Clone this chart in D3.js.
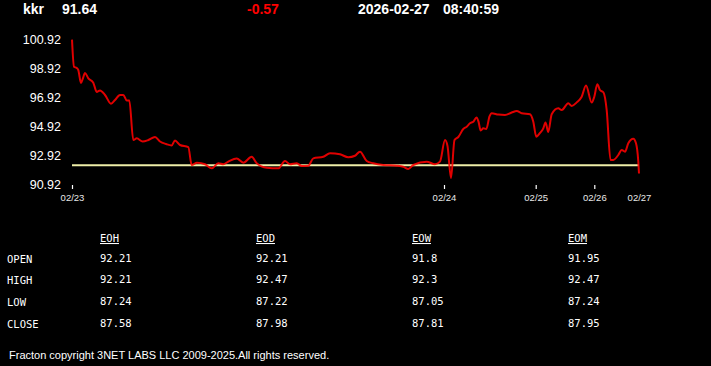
<!DOCTYPE html>
<html>
<head>
<meta charset="utf-8">
<script src="https://cdn.jsdelivr.net/npm/d3@7"></script>
<style>
  html, body { margin: 0; padding: 0; background: #000; overflow: hidden; }
  svg { display: block; }
</style>
</head>
<body>
<script>
// ---- data ----
const symbol = "kkr";
const lastPrice = "91.64";
const change = "-0.57";
const dateStr = "2026-02-27";
const timeStr = "08:40:59";
const prevClose = 92.21;

// sample position (intraday bar index) and price
const times = [0,2,4.7,6.3,9,11,13,16.3,21.3,24.7,28,33,39,43,48,51.3,54.7,57.3,61.3,64.7,
  70.7,76.3,83,88,94,99.7,103,108,116.3,119.7,125,133,139.7,146.3,151.3,156.3,164.7,171.3,179.7,184.7,
  194.7,206.3,213,218,224.7,229.7,236.3,241.3,251.3,258,268,276.3,283,288,294.7,301.3,311.3,324.7,331.3,336.3,
  341.3,354.7,363,368,373,375.5,379,382.5,386.3,391.3,394.7,398,401.3,404.5,406.5,408.7,411.3,414.3,417.5,419.7,
  426.3,433,439.7,444.7,449.7,458,461.3,464.3,468,471.3,473.5,476.3,479.7,486.3,489.7,496.3,499.7,504.7,509.7,514,
  519.7,522.3,525.3,528,531.5,534.7,538.5,541.3,546.3,549.7,553,556.3,561.3,564,566.3,567];
const prices = [100.88,99.01,98.92,98.78,97.89,98.23,98.58,98.21,97.91,97.27,97.37,97.06,96.46,96.71,97.06,97.06,96.68,96.68,93.95,94.07,
  93.85,93.95,94.16,93.85,93.68,93.58,93.92,93.61,93.47,92.23,92.38,92.28,92.00,92.35,92.28,92.46,92.68,92.39,92.80,92.35,
  92.04,92.00,92.51,92.28,92.35,92.16,92.18,92.69,92.80,93.04,92.97,92.76,92.87,93.15,92.51,92.35,92.23,92.18,92.11,91.95,
  92.23,92.46,92.28,92.46,93.95,93.54,91.33,93.95,94.16,94.71,94.87,95.11,95.22,95.51,95.22,94.61,94.76,94.71,95.58,95.80,
  95.71,95.68,95.85,95.95,95.80,95.73,95.22,94.18,94.44,94.76,95.16,94.51,95.73,96.14,96.02,96.49,96.30,96.55,96.94,97.71,
  96.54,96.94,97.80,97.40,97.23,96.02,92.58,92.58,92.92,93.27,93.15,93.73,94.04,93.73,92.46,91.64];

const yTicks = [100.92, 98.92, 96.92, 94.92, 92.92, 90.92];
const xTickPos = [0, 372, 463.7, 522.3, 567];
const xTickLabels = ["02/23", "02/24", "02/25", "02/26", "02/27"];

const tableCols = ["EOH", "EOD", "EOW", "EOM"];
const tableRows = ["OPEN", "HIGH", "LOW", "CLOSE"];
const eoh = ["92.21", "92.21", "87.24", "87.58"];
const eod = ["92.21", "92.47", "87.22", "87.98"];
const eow = ["91.8", "92.3", "87.05", "87.81"];
const eom = ["91.95", "92.47", "87.24", "87.95"];
const footer = "Fracton copyright 3NET LABS LLC 2009-2025.All rights reserved.";

// ---- drawing ----
const W = 711, H = 366;
const svg = d3.select("body").append("svg").attr("width", W).attr("height", H)
  .style("background", "#000");

const sans = "'Liberation Sans', Arial, sans-serif";
const mono = "'DejaVu Sans Mono', monospace";

// header
const hdr = svg.append("g").attr("font-family", sans).attr("font-weight", "bold")
  .attr("font-size", 14).attr("fill", "#fff");
hdr.append("text").attr("x", 23).attr("y", 14).text(symbol);
hdr.append("text").attr("x", 62).attr("y", 14).text(lastPrice);
hdr.append("text").attr("x", 247).attr("y", 14).attr("fill", "#f00").text(change);
hdr.append("text").attr("x", 358).attr("y", 14).text(dateStr);
hdr.append("text").attr("x", 443).attr("y", 14).text(timeStr);

// scales
const x = d3.scaleLinear().domain([0, 567]).range([72, 639]);
const y = d3.scaleLinear().domain([90.92, 100.92]).range([184, 39]);

// y axis
const yAxis = svg.append("g").attr("transform", "translate(72,0)")
  .call(d3.axisLeft(y).tickValues(yTicks).tickSize(0).tickPadding(11).tickFormat(d3.format(".2f")));
yAxis.select(".domain").remove();
yAxis.selectAll("text").attr("fill", "#fff").attr("font-family", sans).attr("font-size", 12.5);

// x axis
const xAxis = svg.append("g").attr("transform", "translate(0,185)")
  .call(d3.axisBottom(x).tickValues(xTickPos).tickSize(4).tickPadding(5)
    .tickFormat((d, i) => xTickLabels[i]));
xAxis.select(".domain").remove();
xAxis.selectAll("line").attr("stroke", "#fff").attr("stroke-width", 1.2);
xAxis.selectAll(".tick").filter((d, i) => i === xTickPos.length - 1).select("line").remove();
xAxis.selectAll("text").attr("fill", "#e8e8e8").attr("font-family", sans).attr("font-size", 9.5);

// previous close line
svg.append("line")
  .attr("x1", x(0)).attr("x2", x(567))
  .attr("y1", y(prevClose)).attr("y2", y(prevClose))
  .attr("stroke", "#eeeea8").attr("stroke-width", 2);

// price line
const pts = times.map((t, i) => [t, prices[i]]);
const line = d3.line().x(d => x(d[0])).y(d => y(d[1])).curve(d3.curveMonotoneX);
svg.append("path").datum(pts).attr("d", line)
  .attr("fill", "none").attr("stroke", "#ff0000").attr("stroke-opacity", 0.88)
  .attr("stroke-width", 2).attr("stroke-linejoin", "round");

// table
const colX = [100, 256, 412, 568];
const rowY = [263, 284, 306, 328];
const tbl = svg.append("g").attr("font-family", mono).attr("font-size", 10.5).attr("fill", "#fff");
tableCols.forEach((c, i) => {
  tbl.append("text").attr("x", colX[i]).attr("y", 242).attr("text-decoration", "underline").text(c);
});
tableRows.forEach((r, j) => {
  tbl.append("text").attr("x", 7).attr("y", rowY[j]).text(r);
});
[eoh, eod, eow, eom].forEach((col, i) => {
  col.forEach((v, j) => {
    tbl.append("text").attr("x", colX[i]).attr("y", rowY[j] - 1).text(v);
  });
});

// footer
svg.append("text").attr("x", 9).attr("y", 359).attr("font-family", sans)
  .attr("font-size", 11).attr("fill", "#fff").text(footer);
</script>
</body>
</html>
